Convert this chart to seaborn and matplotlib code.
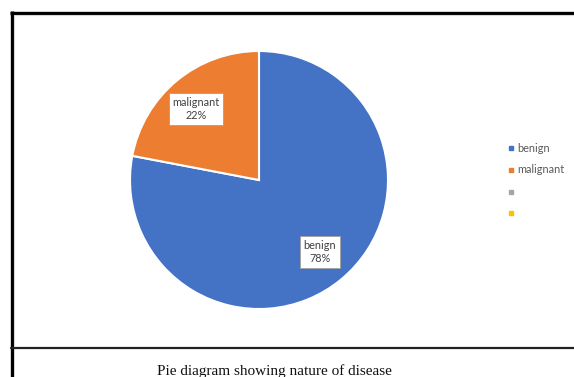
import matplotlib
matplotlib.use("Agg")
import matplotlib.pyplot as plt
import seaborn as sns
from matplotlib.lines import Line2D

sns.set_theme(style="white")
plt.rcParams["font.family"] = ["Lato", "DejaVu Sans"]

categories = ["benign", "malignant", "", ""]
values = [78, 22, 0, 0]
colors = ["#4472C4", "#ED7D31", "#A5A5A5", "#FFC000"]
title = "Pie diagram showing nature of disease"

W, H = 574, 377
fig = plt.figure(figsize=(W / 100, H / 100), dpi=100)
fig.patch.set_facecolor("white")

def fx(px):
    return px / W

def fy(py):
    return 1 - py / H

# Frame lines around the chart area
frame = dict(color="black", lw=2.4, transform=fig.transFigure, solid_capstyle="butt")
fig.add_artist(Line2D([fx(11.5), fx(11.5)], [fy(11), fy(377)], **frame))
fig.add_artist(Line2D([fx(10), fx(574)], [fy(12.5), fy(12.5)], **frame))
fig.add_artist(Line2D([fx(11), fx(574)], [fy(348), fy(348)], color="#222222", lw=1.6,
                      transform=fig.transFigure))
fig.add_artist(Line2D([fx(14), fx(574)], [fy(15), fy(15)], color="#d8d8d8", lw=0.8,
                      transform=fig.transFigure))
fig.add_artist(Line2D([fx(14), fx(14)], [fy(15), fy(346)], color="#d8d8d8", lw=0.8,
                      transform=fig.transFigure))

# Pie
cx, cy, r = 259, 180, 129
ax = fig.add_axes([fx(cx - r), fy(cy + r), (2 * r) / W, (2 * r) / H])
pie_vals = [v for v in values if v > 0]
pie_cols = colors[:len(pie_vals)]
wedges, _ = ax.pie(pie_vals, colors=pie_cols, startangle=90, counterclock=False,
                   radius=1.0, wedgeprops=dict(edgecolor="white", linewidth=1.5))
ax.set_xlim(-1, 1)
ax.set_ylim(-1, 1)
ax.set_aspect("equal")
ax.axis("off")

# Data labels in boxes
label_pos = {"benign": (320, 252), "malignant": (196, 109)}
for cat, val in zip(categories, values):
    if cat in label_pos:
        px, py = label_pos[cat]
        fig.text(fx(px), fy(py), f"{cat}\n{val}%", ha="center", va="center",
                 fontsize=7.8, color="#404040", linespacing=1.3,
                 bbox=dict(boxstyle="square,pad=0.35", fc="white", ec="#a0a0a0", lw=0.6))

# Legend
leg_y = [148, 170, 192, 213]
for cat, col, ly in zip(categories, colors, leg_y):
    fig.add_artist(Line2D([fx(511)], [fy(ly)], marker="s", markersize=2.6, color=col,
                          linestyle="none", transform=fig.transFigure))
    if cat:
        fig.text(fx(517), fy(ly), cat, ha="left", va="center", fontsize=7.8, color="#595959")

# Caption
fig.text(fx(274), fy(371), title, ha="center", va="center", fontsize=11,
         family=["Liberation Serif", "DejaVu Serif"], color="#111111")

fig.savefig("out.png", dpi=100, facecolor="white")
